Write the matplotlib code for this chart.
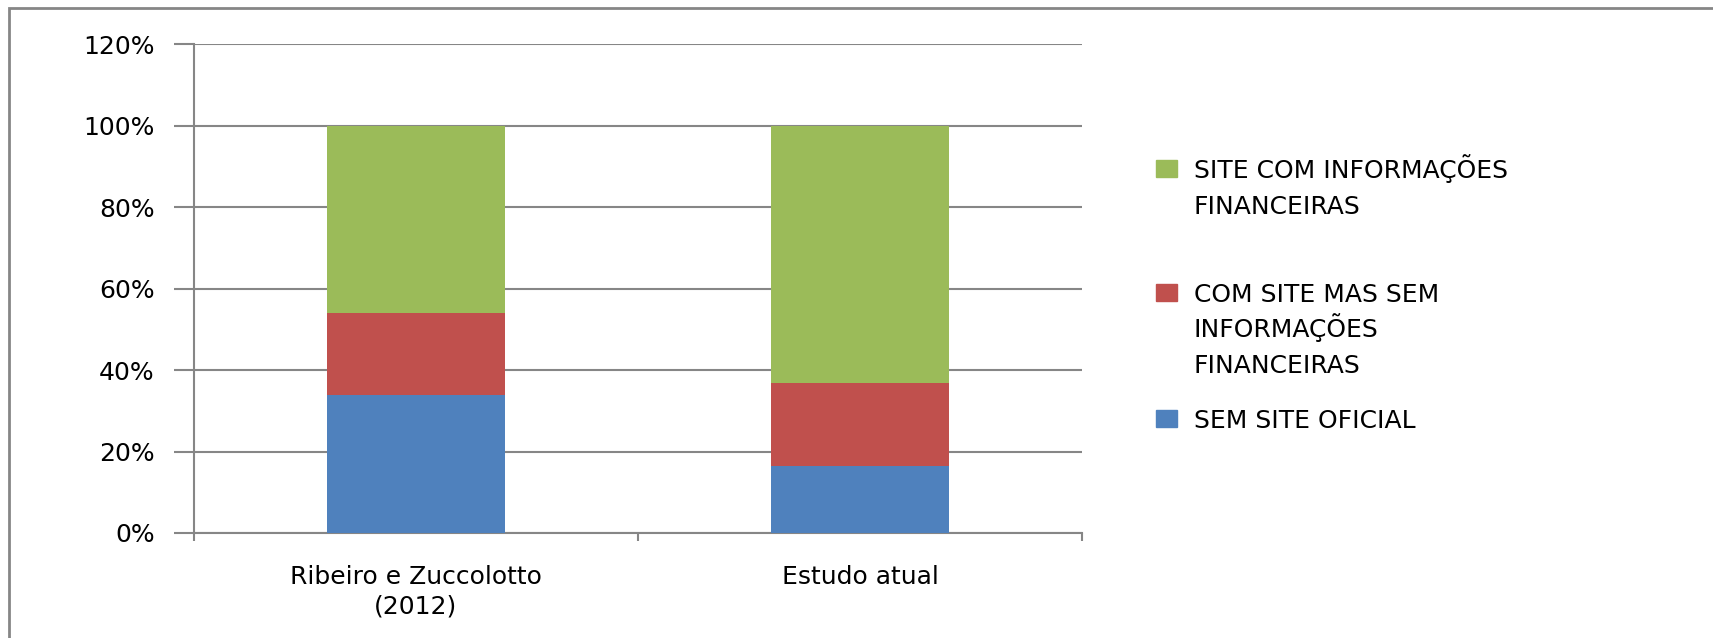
import numpy as np
import matplotlib.pyplot as plt
from matplotlib.patches import Rectangle

categories = ['Ribeiro e Zuccolotto\n(2012)', 'Estudo atual']
sem_site = [33.8, 16.4]
com_site_sem_info = [20.1, 20.4]
site_com_info = [46.1, 63.2]

series = [
    ('SITE COM INFORMAÇÕES\nFINANCEIRAS', site_com_info, '#9BBB59'),
    ('COM SITE MAS SEM\nINFORMAÇÕES\nFINANCEIRAS', com_site_sem_info, '#C0504D'),
    ('SEM SITE OFICIAL', sem_site, '#4F81BD'),
]
yticks = [0, 20, 40, 60, 80, 100, 120]

W, H = 1713, 638
grey = '#868686'
plt.rcParams['font.family'] = ['DejaVu Sans']

fig = plt.figure(figsize=(W / 100, H / 100), dpi=100)
ax = fig.add_axes([194 / W, 1 - 533 / H, (1082 - 194) / W, (533 - 44.3) / H])

x = np.arange(len(categories))
bottom = np.zeros(len(categories))
for label, vals, color in series[::-1]:
    ax.bar(x, vals, 0.4, bottom=bottom, color=color, zorder=3)
    bottom += np.array(vals)

ax.set_xlim(-0.5, 1.5)
ax.set_ylim(0, 120)
ax.set_yticks(yticks)
ax.set_yticklabels([f'{v}%' for v in yticks], fontsize=18)
ax.tick_params(axis='y', length=14.4, width=1.5, color=grey, pad=14)
ax.grid(axis='y', color=grey, lw=1.5, zorder=0)

ax.set_xticks(x)
ax.set_xticklabels(categories, fontsize=18, linespacing=1.3)
ax.tick_params(axis='x', which='major', length=0, pad=23)
ax.set_xticks([-0.5, 0.5, 1.5], minor=True)
ax.tick_params(axis='x', which='minor', length=6, width=1.5, color=grey)

for s in ['top', 'right']:
    ax.spines[s].set_visible(False)
for s in ['left', 'bottom']:
    ax.spines[s].set_color(grey)
    ax.spines[s].set_linewidth(1.5)

# legend, drawn by hand to follow the original spacing
entry_tops = [160, 284, 410]
line_step = 35.5
for (label, vals, color), top in zip(series, entry_tops):
    fig.patches.append(Rectangle((1156 / W, 1 - (top + 17) / H), 21 / W, 17 / H,
                                 transform=fig.transFigure, color=color))
    for i, line in enumerate(label.split('\n')):
        fig.text(1194 / W, 1 - (top + 18 + i * line_step) / H, line,
                 fontsize=18, va='baseline', ha='left')

# outer chart frame
fig.patches.append(Rectangle((9 / W, -0.05), 1.2, 1 - 8 / H + 0.05,
                             transform=fig.transFigure, fill=False,
                             edgecolor=grey, lw=2))

fig.savefig('out.png', dpi=100)
